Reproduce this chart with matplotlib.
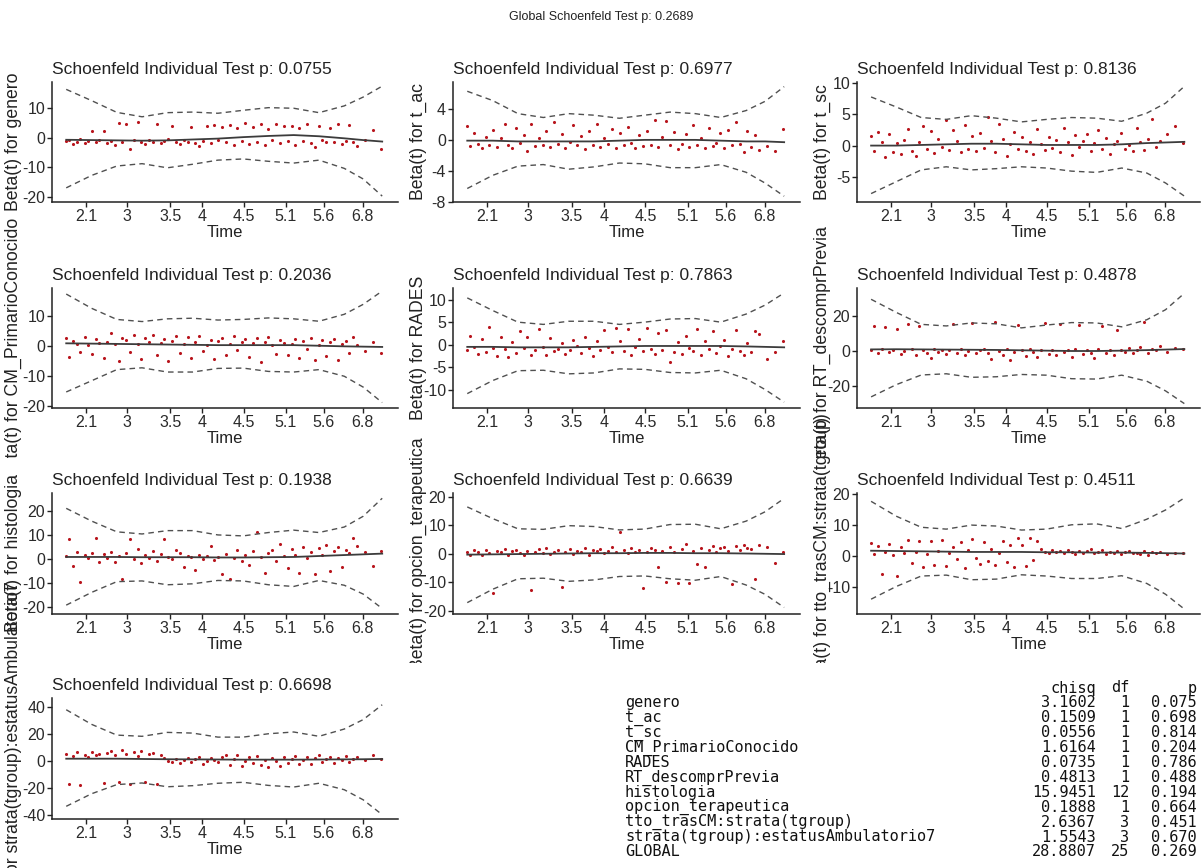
import matplotlib
matplotlib.use("Agg")
import matplotlib.pyplot as plt
import matplotlib.transforms as mtransforms
from matplotlib import font_manager

# transformed time axis (km scale), shared by all panels
time_ticks = [0.063, 0.192, 0.33, 0.431, 0.562, 0.695, 0.815, 0.938]
time_labels = ["2.1", "3", "3.5", "4", "4.5", "5.1", "5.6", "6.8"]

event_x = [0.000, 0.010, 0.022, 0.035, 0.045, 0.058, 0.070, 0.082, 0.094, 0.105,
           0.118, 0.130, 0.142, 0.153, 0.166, 0.178, 0.190, 0.202, 0.214, 0.226,
           0.238, 0.250, 0.262, 0.275, 0.287, 0.299, 0.310, 0.323, 0.335, 0.347,
           0.360, 0.372, 0.384, 0.396, 0.408, 0.420, 0.433, 0.445, 0.457, 0.469,
           0.481, 0.494, 0.506, 0.518, 0.530, 0.542, 0.555, 0.567, 0.579, 0.591,
           0.603, 0.616, 0.628, 0.640, 0.652, 0.664, 0.677, 0.689, 0.701, 0.713,
           0.725, 0.738, 0.750, 0.762, 0.774, 0.786, 0.799, 0.811, 0.823, 0.835,
           0.848, 0.860, 0.872, 0.884, 0.896, 0.909, 0.921, 0.945, 0.970, 0.995]

knots_x = [0.0, 0.08, 0.16, 0.24, 0.32, 0.40, 0.48, 0.56, 0.64, 0.72, 0.80, 0.88, 0.94, 1.0]

covariates = ["genero", "t_ac", "t_sc", "CM_PrimarioConocido", "RADES",
              "RT_descomprPrevia", "histologia", "opcion_terapeutica",
              "tto_trasCM:strata(tgroup)", "strata(tgroup):estatusAmbulatorio7"]
test_p = ["0.0755", "0.6977", "0.8136", "0.2036", "0.7863",
          "0.4878", "0.1938", "0.6639", "0.4511", "0.6698"]
global_p = "0.2689"

# --- scaled Schoenfeld residuals ---
resid_genero = [-1.2, -0.8, -2.0, -1.5, -0.6, -1.9, -1.1, 2.4, -1.4, -0.9,
                2.2, -1.7, -1.0, -2.6, 5.1, -1.3, 4.6, -3.8, -0.7, 5.4,
                -1.6, -2.1, -0.9, -1.4, 4.8, -1.8, -1.2, -0.6, 4.1, -1.5,
                -2.2, -0.8, -1.3, 3.5, -1.7, -2.9, -1.0, 3.9, -1.9, 4.2,
                -0.9, 3.8, -1.6, 4.4, -2.3, 3.2, -1.1, 4.9, -2.0, 3.6,
                -1.4, 4.5, -2.6, 3.1, -0.8, 4.7, -1.9, 3.9, -1.2, 4.1,
                -2.4, 3.3, -1.0, 4.6, -1.7, -3.1, 4.0, -0.9, -1.5, 3.4,
                -1.3, 4.8, -2.2, -1.0, 4.3, -1.6, -2.8, -0.7, 2.6, -3.9]
resid_t_ac = [1.8, -0.8, 0.9, -0.5, -1.0, 0.4, -0.6, 1.3, -0.9, 0.2,
              2.1, -0.7, -1.1, 1.5, -0.4, 0.6, -1.4, 2.0, -0.8, 0.3,
              -0.6, 1.2, -0.9, 2.3, -0.5, 0.8, -1.0, -0.3, 1.9, -0.7,
              0.5, -1.2, 1.1, -0.6, 2.0, -0.9, 0.3, -0.5, 1.4, -1.1,
              0.9, -0.7, 1.7, -0.4, -1.0, 0.6, -0.8, 1.2, -0.6, 2.6,
              -0.9, 0.4, 2.4, -0.7, 1.0, -1.2, -0.5, 0.7, -0.9, 1.9,
              -0.6, 0.3, -1.1, 1.5, -0.8, -0.4, 0.9, -1.0, 1.3, -0.7,
              2.3, -0.5, -1.6, 1.1, -0.9, 0.6, -1.3, -0.8, -1.5, 1.4]
resid_t_sc = [1.5, -0.8, 2.1, 0.6, -1.9, 1.8, -1.0, 0.4, -1.4, 0.9,
              2.7, -0.9, -1.6, 0.5, 3.2, -0.6, 2.4, -1.2, 1.1, -0.3,
              4.1, -0.7, 2.5, 0.8, -1.0, 3.3, -0.5, 1.6, -0.9, 2.0,
              -0.4, 4.6, 0.7, -1.1, 3.4, 1.0, -1.7, 0.3, 2.2, -0.6,
              1.3, -0.8, 0.5, -1.3, 2.6, 0.2, -0.7, 1.4, -0.4, 0.9,
              -1.0, 2.8, 0.6, -1.5, 1.7, -0.3, 0.8, 1.9, -0.9, 0.4,
              2.5, -0.6, 1.2, -1.4, 0.3, 0.7, 2.0, -0.5, 0.1, -0.8,
              2.9, 0.5, -0.7, 1.0, 4.2, -0.3, 0.8, 1.9, 3.2, 0.4]
resid_cm = [2.5, -3.6, 1.8, 0.7, -1.9, 3.1, 0.4, -2.7, 2.2, 1.0,
            -3.9, 1.5, 4.3, 0.6, -4.8, 2.8, 1.9, -2.1, 3.5, 0.8,
            -4.2, 2.6, 1.3, 3.8, -3.0, 0.9, 2.4, -5.1, 1.6, 3.2,
            -2.3, 0.7, 2.9, -3.8, 1.2, 3.4, -1.6, 0.5, 2.1, -4.4,
            1.8, 2.7, -2.9, 0.6, 3.3, -1.4, 1.5, 2.2, -3.5, 0.9,
            2.6, -5.3, 1.4, 3.0, 0.3, -2.6, 2.1, 1.1, -3.1, 0.8,
            2.4, -4.1, 1.7, -0.9, 2.8, -4.6, 0.5, 1.9, -3.3, 1.2,
            2.2, -4.7, 0.7, 1.6, -2.4, 2.9, 0.4, -1.8, 1.3, -2.2]
resid_rades = [-1.2, 2.0, -0.5, -2.1, 1.3, -1.6, 4.0, -0.8, -2.6, 1.8,
               -1.0, -2.8, 0.6, -1.9, 3.1, -0.7, 1.7, -2.4, -1.1, 3.5,
               -0.6, -2.3, 1.4, -1.5, -0.9, 0.3, -2.0, -1.3, 1.1, -0.4,
               -1.8, 1.6, -0.7, -2.5, 0.8, -1.2, 3.2, -0.5, -1.7, 3.8,
               0.9, -1.4, 3.4, -2.2, -0.6, 1.2, -1.5, 3.6, -0.9, -2.0,
               2.6, -1.1, 3.3, -3.9, -1.7, 0.5, -2.1, 1.9, -0.8, -1.5,
               3.5, -2.3, 0.7, -1.0, 3.1, -1.8, -0.4, 1.0, -2.6, -0.9,
               3.3, -1.4, -2.2, 0.4, -1.7, 3.0, 2.4, -3.2, -1.6, 0.8]
resid_rt = [0.5, 14.2, -1.2, 1.0, 13.8, -0.6, 0.8, 12.3, -1.5, 0.3,
            15.6, 1.2, -2.0, 14.4, 0.6, -1.1, -3.8, 1.4, -0.4, 0.9,
            -1.7, 0.4, 15.2, -0.9, 1.1, -2.4, 0.2, 16.1, -1.3, 0.7,
            1.5, -0.8, -4.6, 16.8, 0.3, -1.9, 1.0, -5.2, -0.5, 14.7,
            0.8, -2.6, 1.3, -0.7, -3.4, 0.5, 15.9, -1.6, 0.9, -2.2,
            15.3, -0.6, 0.4, -3.1, 1.2, 14.8, -1.4, 0.6, -0.9, -4.1,
            1.1, 14.1, -1.0, 0.5, -2.3, 12.1, 0.9, -0.4, 1.6, -1.2,
            0.7, 2.1, 16.3, -0.8, 1.3, 0.4, 2.8, -0.5, 1.9, 1.2]
resid_histologia = [1.2, 8.5, -2.6, 3.0, -9.6, 1.8, 0.4, 2.5, 8.9, -1.3,
                    2.1, 0.7, 3.2, -0.9, 1.5, -8.2, 2.8, 8.6, 0.3, 4.2,
                    -1.6, 1.9, 0.5, 3.4, -0.8, 2.2, 8.3, 1.1, 0.2, 3.9,
                    2.6, -3.1, 1.4, 0.8, -4.6, 2.0, 0.1, 1.6, 5.5, -0.4,
                    1.0, -6.2, 2.3, -8.3, 0.6, 4.1, -0.7, 1.8, -2.5, 3.6,
                    11.5, 0.9, -5.8, 2.7, 3.9, -0.5, 6.6, 1.3, -3.5, 4.4,
                    2.0, -5.5, 5.2, 0.4, 3.1, -6.0, 4.6, 1.7, 6.1, -4.8,
                    3.3, 5.0, -3.2, 4.1, 2.6, 8.8, 5.4, 3.0, -2.6, 3.5]
resid_opcion = [0.5, -0.4, 1.2, 0.8, -0.6, 1.5, 0.3, -13.8, 1.0, 0.6,
                1.8, -0.3, 0.9, 1.4, 0.2, -0.5, 1.1, -12.8, 0.7, 1.6,
                0.4, 1.9, -0.2, 0.8, 1.3, -11.8, 0.6, 1.7, 0.1, 1.0,
                0.5, 2.2, -0.3, 1.2, 0.9, 1.6, 0.4, 1.1, 2.5, 0.7,
                7.5, 1.4, 0.2, 1.9, 0.8, 1.2, -12.2, 0.6, 2.0, 1.5,
                -4.8, 1.1, -9.8, 2.3, 0.7, -10.2, 1.8, 3.4, -10.4, 0.9,
                -3.5, 2.1, -4.6, 1.3, 2.7, 0.8, 1.9, 2.4, 1.0, -10.8,
                2.6, 1.4, 3.0, 2.2, 1.7, -8.8, 3.2, 2.5, -3.1, 0.6]
resid_tto = [4.0, 0.5, 3.2, -6.0, 1.1, 3.8, 0.2, -6.5, 2.9, 0.8,
             5.2, -2.4, 1.3, 4.6, -3.8, 0.6, 4.9, -2.9, 1.6, 5.0,
             -3.4, 0.9, 2.7, -1.2, 4.3, -3.9, 1.8, 5.4, -0.6, -2.8,
             4.4, -1.6, 2.2, -3.1, 0.7, 4.8, -2.2, 3.6, -3.6, 5.6,
             3.6, -3.4, 5.6, -1.5, 4.9, 2.0, 1.2, 0.8, 1.7, 1.1,
             1.5, 0.9, 1.8, 1.3, 0.6, 1.6, 1.0, 1.4, 2.1, 0.8,
             1.2, 1.7, 0.5, 1.3, 0.9, 1.5, 0.4, 1.1, 1.6, 0.7,
             1.0, 0.6, 1.4, 0.3, 1.2, 0.8, 1.1, 0.5, 0.9, 0.7]
resid_strata = [5.5, -16.5, 4.0, 6.8, -17.2, 5.0, 3.5, 7.0, 4.6, 5.8,
                -16.0, 6.2, 7.5, 4.8, -15.4, 8.3, 5.6, -16.8, 6.9, 4.2,
                7.8, -15.1, 5.3, 6.5, -16.9, 4.7, 2.2, 0.6, -0.8, 1.9,
                -1.3, 0.9, 2.4, -0.5, 1.6, 3.1, -1.9, 0.4, 2.7, 1.2,
                -0.7, 3.5, 5.0, -2.9, 1.8, 4.4, -3.6, 0.2, 2.9, -1.4,
                3.8, -2.5, 1.1, -4.0, 2.6, 0.5, -3.1, 3.3, -0.9, 1.7,
                4.1, -2.2, 0.8, 3.0, -1.6, 2.3, 4.7, -0.4, 1.5, 3.6,
                -1.1, 2.8, 0.7, 4.3, -0.6, 2.0, 3.4, 1.0, 5.0, 1.9]

# --- smooth fit and +/- 2 se bands at knots_x ---
fit_genero = [-0.7, -0.8, -0.9, -1.0, -0.9, -0.6, -0.3, 0.2, 0.6, 0.9, 0.5, -0.2, -0.8, -1.3]
upper_genero = [16.4, 12.6, 8.6, 7.1, 8.5, 8.7, 8.3, 9.3, 10.2, 10.0, 8.5, 10.8, 13.8, 17.5]
lower_genero = [-17.0, -12.8, -9.6, -8.8, -10.2, -9.0, -7.6, -7.2, -8.0, -8.6, -7.6, -10.4, -14.0, -19.8]
fit_t_ac = [-0.1, -0.1, -0.2, -0.2, -0.2, -0.2, -0.1, 0.0, 0.0, 0.0, -0.1, -0.2, -0.2, -0.3]
upper_t_ac = [6.3, 5.1, 3.4, 2.9, 3.4, 3.2, 2.8, 3.2, 3.6, 3.4, 2.9, 3.8, 5.0, 6.9]
lower_t_ac = [-6.3, -4.6, -3.4, -3.2, -3.8, -3.5, -3.0, -3.1, -3.6, -3.6, -3.2, -4.2, -5.6, -7.3]
fit_t_sc = [0.0, 0.0, 0.1, 0.2, 0.3, 0.3, 0.2, 0.1, 0.1, 0.1, 0.2, 0.4, 0.5, 0.6]
upper_t_sc = [7.8, 6.2, 4.5, 4.2, 4.8, 4.4, 3.8, 4.2, 4.5, 4.4, 3.9, 5.2, 6.8, 9.5]
lower_t_sc = [-7.7, -5.8, -3.9, -3.4, -3.9, -3.7, -3.4, -3.6, -4.1, -4.3, -3.6, -4.4, -6.0, -8.1]
fit_cm = [0.9, 0.8, 0.7, 0.6, 0.5, 0.4, 0.3, 0.3, 0.3, 0.3, 0.1, -0.1, -0.2, -0.3]
upper_cm = [17.2, 12.5, 8.8, 8.1, 9.0, 9.2, 8.6, 8.8, 9.3, 9.0, 8.2, 10.5, 13.8, 18.2]
lower_cm = [-15.2, -11.5, -7.8, -7.2, -8.6, -8.6, -7.4, -7.3, -8.4, -8.6, -7.8, -10.0, -13.6, -18.7]
fit_rades = [-0.5, -0.5, -0.6, -0.6, -0.6, -0.5, -0.4, -0.3, -0.3, -0.3, -0.3, -0.4, -0.5, -0.6]
upper_rades = [10.4, 7.6, 5.0, 4.5, 5.2, 5.2, 4.5, 5.0, 5.7, 5.8, 5.0, 6.8, 8.8, 11.5]
lower_rades = [-10.9, -8.0, -5.8, -5.7, -6.5, -6.3, -5.4, -5.5, -6.2, -6.3, -5.7, -7.6, -10.0, -12.8]
fit_rt = [1.0, 1.1, 1.0, 0.9, 0.8, 0.7, 0.5, 0.3, 0.1, 0.1, 0.3, 0.6, 0.9, 1.2]
upper_rt = [29.4, 22.0, 15.2, 14.3, 16.0, 15.5, 13.2, 14.8, 16.2, 16.0, 13.8, 17.8, 23.5, 32.8]
lower_rt = [-25.9, -19.0, -13.5, -12.8, -14.8, -14.5, -13.2, -13.6, -15.6, -15.8, -13.6, -17.0, -22.5, -29.7]
fit_histologia = [1.0, 1.0, 1.0, 0.9, 0.9, 0.9, 0.8, 0.8, 0.9, 1.0, 1.4, 1.8, 2.1, 2.4]
upper_histologia = [21.3, 16.0, 11.5, 10.6, 12.0, 12.0, 10.2, 9.8, 11.2, 12.2, 11.2, 13.5, 18.0, 25.5]
lower_histologia = [-19.1, -13.8, -9.3, -9.0, -10.6, -10.2, -8.8, -9.0, -10.6, -11.3, -8.8, -10.8, -14.5, -20.5]
fit_opcion = [-0.3, -0.2, -0.1, 0.0, 0.1, 0.2, 0.2, 0.3, 0.3, 0.2, 0.2, 0.1, 0.0, -0.1]
upper_opcion = [16.5, 12.4, 8.8, 8.6, 9.9, 9.6, 8.4, 8.7, 10.3, 10.4, 8.8, 11.5, 14.8, 19.5]
lower_opcion = [-17.2, -12.5, -8.8, -8.6, -9.7, -9.2, -8.0, -7.8, -8.8, -9.3, -8.0, -11.0, -14.3, -18.9]
fit_tto = [1.6, 1.5, 1.4, 1.3, 1.2, 1.2, 1.2, 1.1, 1.1, 1.0, 1.0, 0.9, 0.8, 0.7]
upper_tto = [17.6, 12.8, 9.2, 8.6, 9.9, 9.6, 8.3, 8.6, 10.0, 10.3, 8.8, 11.8, 14.8, 18.7]
lower_tto = [-14.1, -10.0, -6.6, -6.3, -7.8, -7.6, -6.2, -6.6, -7.4, -7.4, -6.5, -9.0, -12.5, -17.3]
fit_strata = [2.0, 2.0, 2.0, 1.8, 1.6, 1.5, 1.4, 1.3, 1.3, 1.3, 1.4, 1.5, 1.6, 1.8]
upper_strata = [38.3, 27.5, 19.5, 18.6, 21.5, 21.0, 18.0, 18.0, 20.5, 21.8, 18.6, 24.0, 31.0, 42.0]
lower_strata = [-33.3, -24.0, -17.2, -16.0, -18.8, -18.0, -16.2, -15.5, -17.8, -19.0, -16.2, -21.0, -28.5, -39.5]

# cox.zph table
table_chisq = [3.1602, 0.1509, 0.0556, 1.6164, 0.0735, 0.4813, 15.9451, 0.1888, 2.6367, 1.5543, 28.8807]
table_df = [1, 1, 1, 1, 1, 1, 12, 1, 3, 3, 25]
table_p = [0.075, 0.698, 0.814, 0.204, 0.786, 0.488, 0.194, 0.664, 0.451, 0.670, 0.269]

residuals = [resid_genero, resid_t_ac, resid_t_sc, resid_cm, resid_rades,
             resid_rt, resid_histologia, resid_opcion, resid_tto, resid_strata]
fits = [fit_genero, fit_t_ac, fit_t_sc, fit_cm, fit_rades,
        fit_rt, fit_histologia, fit_opcion, fit_tto, fit_strata]
uppers = [upper_genero, upper_t_ac, upper_t_sc, upper_cm, upper_rades,
          upper_rt, upper_histologia, upper_opcion, upper_tto, upper_strata]
lowers = [lower_genero, lower_t_ac, lower_t_sc, lower_cm, lower_rades,
          lower_rt, lower_histologia, lower_opcion, lower_tto, lower_strata]

# axis layout per panel
yticks = [[-20, -10, 0, 10], [-8, -4, 0, 4], [-5, 0, 5, 10], [-20, -10, 0, 10],
          [-10, -5, 0, 5, 10], [-20, 0, 20], [-20, -10, 0, 10, 20],
          [-20, -10, 0, 10, 20], [-10, 0, 10, 20], [-40, -20, 0, 20, 40]]
ylims = [(-21.8, 18.9), (-8.05, 7.5), (-9.05, 10.2), (-20.5, 19.2), (-14.1, 12.6),
         (-32.2, 35.8), (-22.8, 27.7), (-21.2, 21.4), (-18.9, 20.3), (-42.7, 47)]

W, H = 1203, 868
col_left = [52, 453, 857]
col_right = [398, 800, 1200]
row_top = [82, 288, 493, 698]
row_bottom = [202, 408, 614, 819]
label_x = [22, 427, 831]
cell_w, cell_h, cell_top = 401, 205, 48

names = {f.name for f in font_manager.fontManager.ttflist}
if "Liberation Sans Narrow" in names:
    fam = "Liberation Sans Narrow"
    fs_title, fs_xlab, fs_sup = 14.5, 13.5, 10.5
else:
    fam = "Liberation Sans"
    fs_title, fs_xlab, fs_sup = 12.5, 12, 9
plt.rcParams["font.family"] = [fam, "DejaVu Sans"]
plt.rcParams["axes.unicode_minus"] = False
tick_font = {"family": ["Liberation Sans", "DejaVu Sans"], "size": 11.5}

fig = plt.figure(figsize=(W / 100, H / 100), dpi=100)
fig.patch.set_facecolor("white")


def fx(px):
    return px / W


def fy(py):
    return 1 - py / H


def add_cell(r, c):
    bg = fig.add_axes([fx(c * cell_w), fy(cell_top + cell_h * (r + 1)), cell_w / W, cell_h / H])
    bg.set_facecolor("white")
    bg.set_xticks([])
    bg.set_yticks([])
    for s in bg.spines.values():
        s.set_visible(False)


for i, name in enumerate(covariates):
    r, c = divmod(i, 3)
    add_cell(r, c)
    ax = fig.add_axes([fx(col_left[c]), fy(row_bottom[r]),
                       (col_right[c] - col_left[c]) / W, (row_bottom[r] - row_top[r]) / H])
    ax.patch.set_alpha(0)
    ax.scatter(event_x, residuals[i], s=5, color="#b8141c", linewidths=0, zorder=2)
    ax.plot(knots_x, fits[i], color="#3c3c3c", lw=1.3, zorder=3)
    ax.plot(knots_x, uppers[i], color="#505050", lw=1.0, ls=(0, (4, 3)))
    ax.plot(knots_x, lowers[i], color="#505050", lw=1.0, ls=(0, (4, 3)))

    ax.set_xlim(-0.045, 1.05)
    ax.set_ylim(*ylims[i])
    ax.set_xticks(time_ticks, time_labels, fontdict=tick_font)
    ax.set_yticks(yticks[i], [str(v) for v in yticks[i]], fontdict=tick_font)
    for s in ("top", "right"):
        ax.spines[s].set_visible(False)
    for s in ("left", "bottom"):
        ax.spines[s].set_color("#222222")
        ax.spines[s].set_linewidth(1.1)
    ax.tick_params(direction="out", length=3.5, width=1, color="#222222",
                   labelcolor="#2a2a2a", pad=1.5)

    ax.set_title(f"Schoenfeld Individual Test p: {test_p[i]}", loc="left",
                 fontsize=fs_title, color="#222222", pad=6)
    ax.set_xlabel("Time", fontsize=fs_xlab, color="#222222", labelpad=1)
    ax.set_ylabel(f"Beta(t) for {name}", fontsize=12.7, color="#222222",
                  family=["Liberation Sans", "DejaVu Sans"])
    ax.yaxis.set_label_coords(fx(label_x[c]), 0.5,
                              transform=mtransforms.blended_transform_factory(fig.transFigure, ax.transAxes))

# empty cells next to the last panel
add_cell(3, 1)
add_cell(3, 2)

fig.text(0.5, fy(17), f"Global Schoenfeld Test p: {global_p}", ha="center", va="center",
         fontsize=fs_sup, color="#222222")

# printed test table
mono = dict(family="DejaVu Sans Mono", fontsize=11, color="#111111", va="center")
tab_names = covariates + ["GLOBAL"]
x_name, x_chisq, x_df, x_p = 625, 1096, 1129, 1197
y0, dy = 688, 14.9
fig.text(fx(x_chisq), fy(y0), "chisq", ha="right", **mono)
fig.text(fx(x_df), fy(y0), "df", ha="right", **mono)
fig.text(fx(x_p), fy(y0), "p", ha="right", **mono)
for k, nm in enumerate(tab_names):
    yy = fy(y0 + dy * (k + 1))
    fig.text(fx(x_name), yy, nm, ha="left", **mono)
    fig.text(fx(x_chisq), yy, f"{table_chisq[k]:.4f}", ha="right", **mono)
    fig.text(fx(x_df), yy, f"{table_df[k]}", ha="right", **mono)
    fig.text(fx(x_p), yy, f"{table_p[k]:.3f}", ha="right", **mono)

fig.savefig("out.png", dpi=100, facecolor="white")
